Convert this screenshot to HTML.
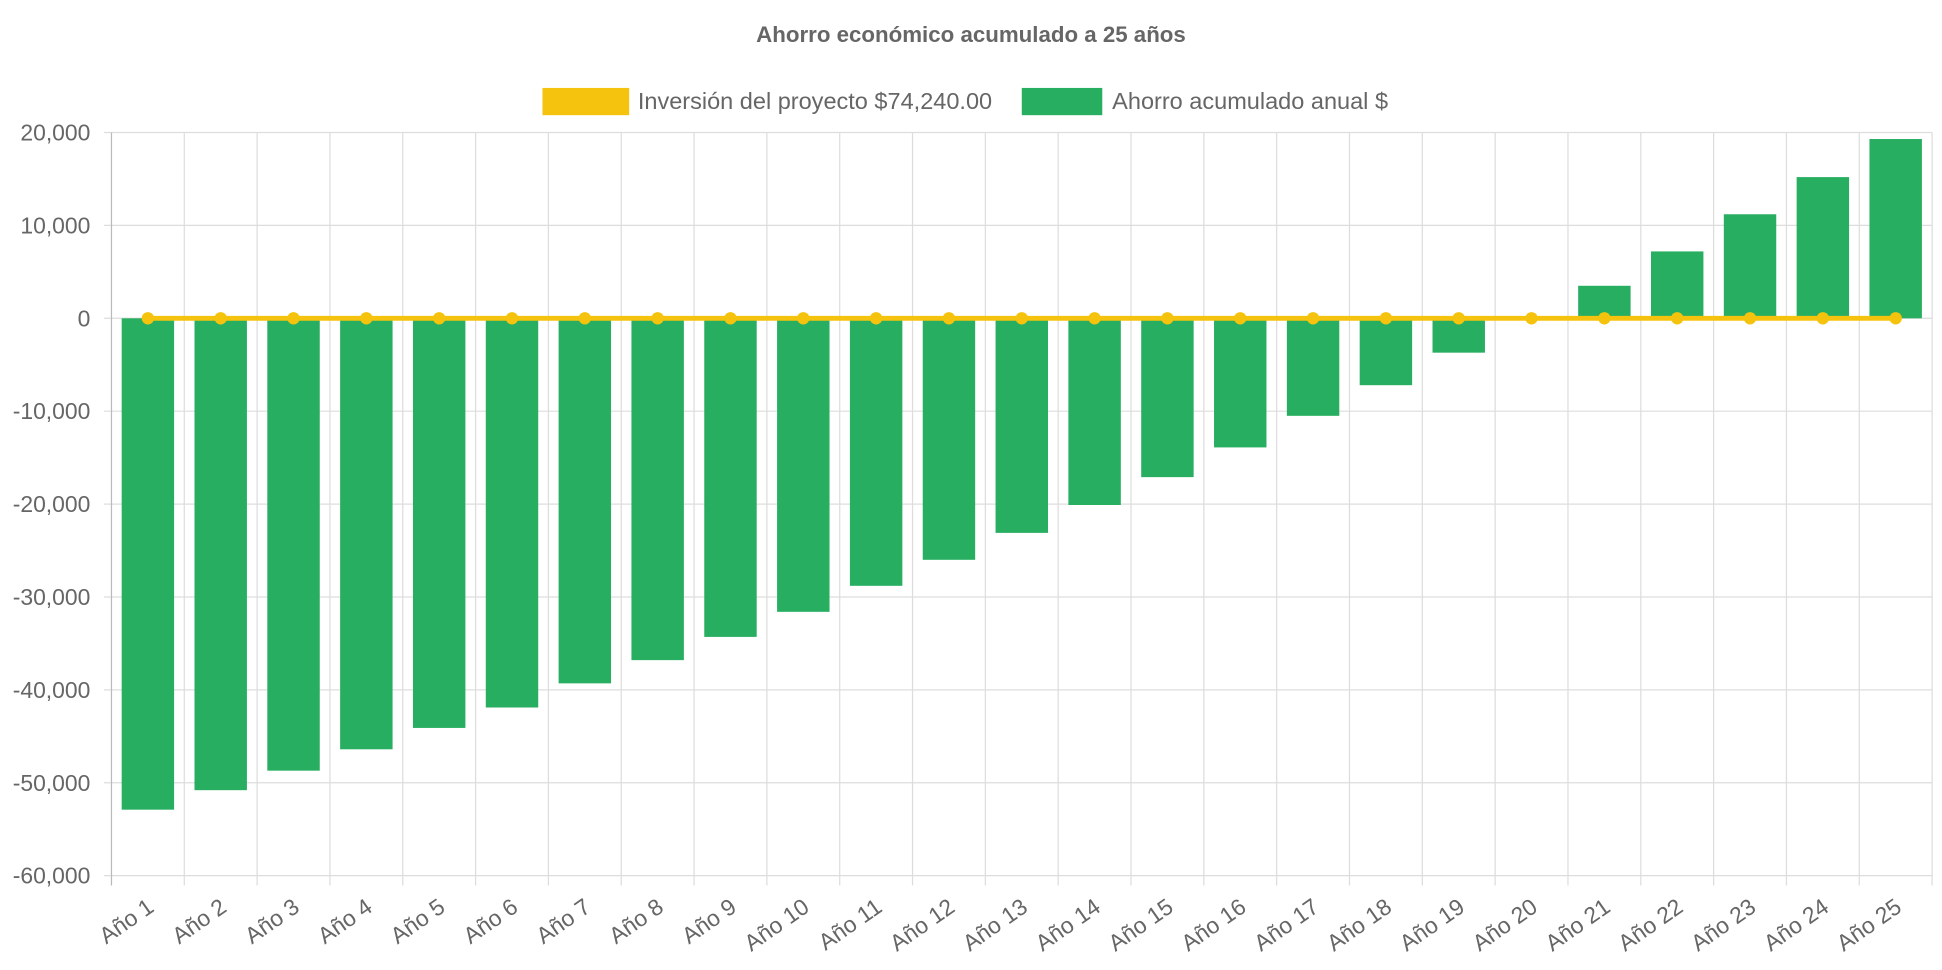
<!DOCTYPE html>
<html><head><meta charset="utf-8"><style>
html,body{margin:0;padding:0;background:#fff;}
svg{display:block;font-family:"Liberation Sans",Arial,sans-serif;}
</style></head><body>
<svg id="chart" width="1942" height="970" viewBox="0 0 1568 783.2" preserveAspectRatio="none" xmlns="http://www.w3.org/2000/svg">
<text x="784" y="34" text-anchor="middle" font-size="18" font-weight="bold" fill="#666">Ahorro económico acumulado a 25 años</text>
<g>
<rect x="438" y="71" width="70" height="22" fill="#f5c30e"/>
<text x="515" y="88" font-size="19" fill="#666">Inversión del proyecto $74,240.00</text>
<rect x="825" y="71" width="65" height="22" fill="#27ae60"/>
<text x="898" y="88" font-size="19" fill="#666">Ahorro acumulado anual $</text>
</g>
<g id="grid"></g><g id="bars"></g><g id="line"></g><g id="axes"></g>
</svg>
<script>
const categories = Array.from({length:25},(_,i)=>'Año '+(i+1));
const savings = [-52900,-50800,-48700,-46400,-44100,-41900,-39300,-36800,-34300,-31600,-28800,-26000,-23100,-20100,-17100,-13900,-10500,-7200,-3700,0,3500,7200,11200,15200,19300];
const investment = [0,0,0,0,0,0,0,0,0,0,0,0,0,0,0,0,0,0,0,0,0,0,0,0,0];
const yTicks = [20000,10000,0,-10000,-20000,-30000,-40000,-50000,-60000];
const NS='http://www.w3.org/2000/svg';
const L=90,R=1560,T=107,B=707,yMax=20000,yMin=-60000;
const y=v=>T+(yMax-v)/(yMax-yMin)*(B-T);
const step=(R-L)/categories.length;
const xc=i=>L+step*(i+0.5);
function mk(t,a,p){const e=document.createElementNS(NS,t);for(const k in a)e.setAttribute(k,a[k]);p.appendChild(e);return e;}
const grid=document.getElementById('grid'),bars=document.getElementById('bars'),line=document.getElementById('line'),axes=document.getElementById('axes');
yTicks.forEach(v=>{
 const g=mk('line',{x1:L-6,x2:R,y1:y(v),y2:y(v),stroke:'#ddd','stroke-width':1},grid);
 
 
 const t=mk('text',{x:L-17,y:y(v)+6.5,'text-anchor':'end','font-size':18.5,fill:'#666'},axes);
 t.textContent=v.toLocaleString('en-US');
 
 
});
for(let i=0;i<=categories.length;i++){
 const g=mk('line',{x1:L+step*i,x2:L+step*i,y1:T,y2:B+8,stroke:i==0?'#bbb':'#ddd','stroke-width':1},grid);
 
 
}
const bw=step*0.72;
savings.forEach((v,i)=>{
 const r=mk('rect',{x:xc(i)-bw/2,y:Math.min(y(v),y(0)),width:bw,height:Math.abs(y(v)-y(0)),fill:'#27ae60'},bars);
 
 
});
const pl=mk('polyline',{points:investment.map((v,i)=>xc(i)+','+y(v)).join(' '),fill:'none',stroke:'#f5c30e','stroke-width':4},line);


investment.forEach((v,i)=>{
 const c=mk('circle',{cx:xc(i),cy:y(v),r:5,fill:'#f5c30e'},line);
 
 
});
categories.forEach((c,i)=>{
 const x=xc(i)+6,yy=B+28;
 const t=mk('text',{x:x,y:yy,'text-anchor':'end','font-size':18.5,fill:'#666',transform:`rotate(-35 ${x} ${yy})`},axes);
 t.textContent=c;
 
 
});
</script>
</body></html>
